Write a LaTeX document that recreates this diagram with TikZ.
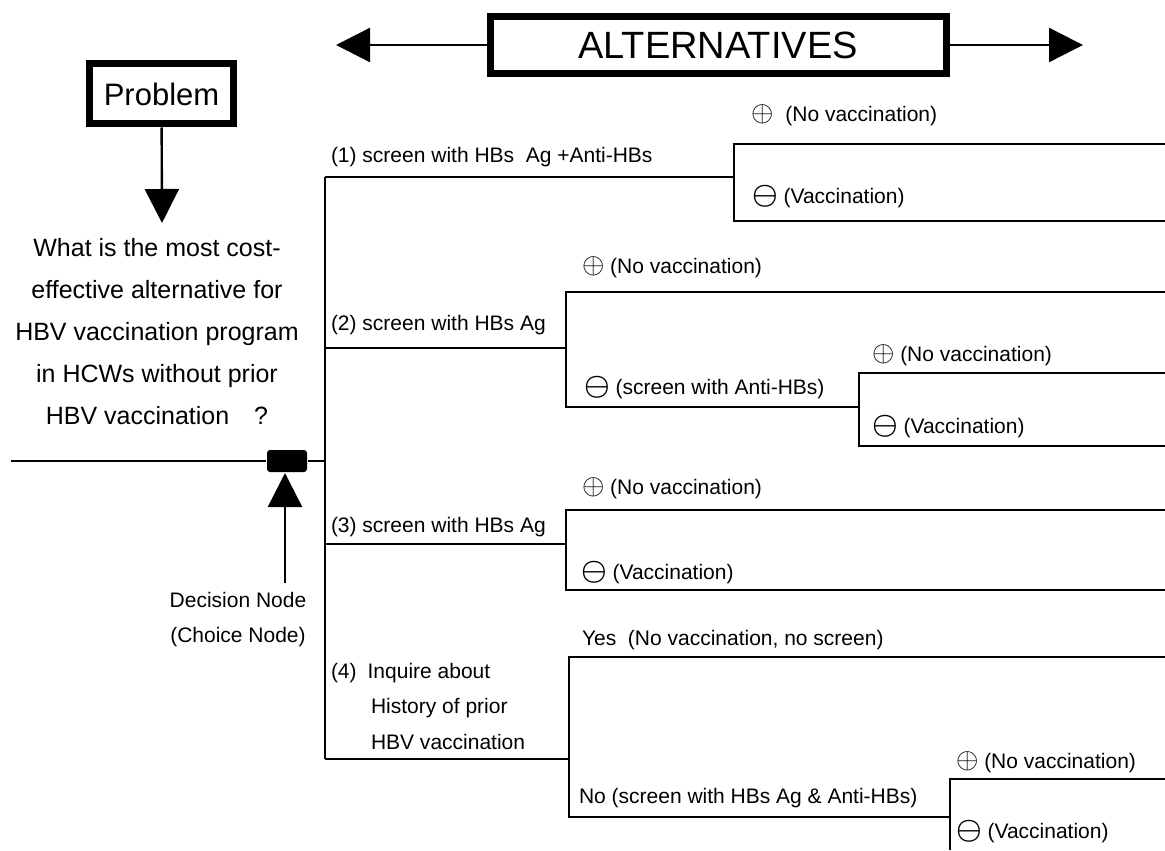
\documentclass[tikz,border=0pt]{standalone}
\usepackage{fontspec}
\usepackage{amsmath}
\setmainfont{Liberation Sans}
\usetikzlibrary{arrows.meta,positioning}
\newcommand{\posmark}{{\fontsize{15}{15}\selectfont$\oplus$}}
\newcommand{\negmark}{{\fontsize{15}{15}\selectfont$\boldsymbol{\ominus}$}}
\begin{document}
\begin{tikzpicture}[x=0.5pt, y=-0.5pt, line width=1pt, every node/.style={font=\fontsize{10.5}{12}\selectfont}]
    \tikzstyle{title} = [rectangle, draw, line width=3.5pt, inner sep=0pt]
    \tikzstyle{lbl} = [anchor=west, inner sep=0pt]
    \tikzstyle{bigarrow} = [-{Triangle[length=17pt, width=17pt]}, line width=1.2pt]
    \useasboundingbox (0,0) rectangle (1165,850);

    % headers
    \node (alternatives) [title, minimum width=228pt, minimum height=28.5pt, font=\fontsize{19}{22}\selectfont] at (718,45) {ALTERNATIVES};
    \coordinate (altLeft) at (336,45);
    \coordinate (altRight) at (1083,45);
    \draw [bigarrow] (alternatives) -- (altLeft);
    \draw [bigarrow] (alternatives) -- (altRight);

    \node (problem) [title, minimum width=72pt, minimum height=30pt, font=\fontsize{15.5}{18}\selectfont] at (161.5,94) {Problem};
    \node (question) [align=center, font=\fontsize{12.5}{21}\selectfont] at (157,332) {What is the most cost-\\effective alternative for\\HBV vaccination program\\in HCWs without prior\\HBV vaccination\quad ?};
    \coordinate (questionTop) at (162,223);
    \draw [bigarrow] (problem) -- (questionTop);

    % decision node
    \coordinate (root) at (11,461);
    \coordinate (trunk) at (325,461);
    \node (decision) [rectangle, fill=black, rounded corners=1.5pt, minimum width=20pt, minimum height=11pt, inner sep=0pt] at (287,461) {};
    \draw (root) -- (decision) -- (trunk);
    \node (decLabel) [align=center, font=\fontsize{10.5}{17.5}\selectfont] at (238,620) {Decision Node\\(Choice Node)};
    \coordinate (decArrowStart) at (285,583);
    \draw [bigarrow] (decArrowStart) -- (decArrowStart |- decision.south);

    % trunk
    \coordinate (trunkTop) at (325,177);
    \coordinate (trunk2) at (325,348);
    \coordinate (trunk3) at (325,544);
    \coordinate (trunkBottom) at (325,759);
    \draw (trunkTop) -- (trunkBottom);

    % (1)
    \coordinate (chance1) at (734,177);
    \coordinate (end1a) at (1165,144);
    \coordinate (end1b) at (1165,221);
    \draw (trunkTop) -- (chance1);
    \draw (end1a) -| (chance1) |- (end1b);
    \node (lbl1) [lbl] at (330,157) {(1) screen with HBs~ Ag +Anti-HBs};
    \node (lbl1pos) [lbl] at (750,115) {\posmark\hspace{6pt}(No vaccination)};
    \node (lbl1neg) [lbl] at (751,197) {\negmark\ (Vaccination)};

    % (2)
    \coordinate (chance2) at (566,348);
    \coordinate (chance2b) at (859,407);
    \coordinate (end2a) at (1165,292);
    \coordinate (end2b) at (1165,373);
    \coordinate (end2c) at (1165,446);
    \draw (trunk2) -- (chance2);
    \draw (end2a) -| (chance2) |- (chance2b);
    \draw (end2b) -| (chance2b) |- (end2c);
    \node (lbl2) [lbl] at (330,325) {(2) screen with HBs Ag};
    \node (lbl2pos) [lbl] at (581,267) {\posmark\ (No vaccination)};
    \node (lbl2neg) [lbl] at (583,388) {\negmark\ (screen with Anti-HBs)};
    \node (lbl2bpos) [lbl] at (871,355) {\posmark\ (No vaccination)};
    \node (lbl2bneg) [lbl] at (871,427) {\negmark\ (Vaccination)};

    % (3)
    \coordinate (chance3) at (566,544);
    \coordinate (end3a) at (1165,510);
    \coordinate (end3b) at (1165,590);
    \draw (trunk3) -- (chance3);
    \draw (end3a) -| (chance3) |- (end3b);
    \node (lbl3) [lbl] at (330,527) {(3) screen with HBs Ag};
    \node (lbl3pos) [lbl] at (581,488) {\posmark\ (No vaccination)};
    \node (lbl3neg) [lbl] at (580,573) {\negmark\ (Vaccination)};

    % (4)
    \coordinate (chance4) at (569,759);
    \coordinate (chance4b) at (950,817);
    \coordinate (end4a) at (1165,657);
    \coordinate (end4b) at (1165,779);
    \coordinate (end4c) at (950,850);
    \draw (trunkBottom) -- (chance4);
    \draw (end4a) -| (chance4) |- (chance4b);
    \draw (end4b) -| (chance4b) -- (end4c);
    \node (lbl4) [lbl, align=left, font=\fontsize{10.5}{17.75}\selectfont] at (330,706) {(4)\hspace{5.5pt}Inquire about\\\hspace*{20pt}History of prior\\\hspace*{20pt}HBV vaccination};
    \node (lbl4yes) [lbl] at (581,640) {Yes~ (No vaccination, no screen)};
    \node (lbl4no) [lbl] at (578,798) {No (screen with HBs Ag \& Anti-HBs)};
    \node (lbl4pos) [lbl] at (955,762) {\posmark\ (No vaccination)};
    \node (lbl4neg) [lbl] at (955,832) {\negmark\ (Vaccination)};

\end{tikzpicture}
\end{document}
